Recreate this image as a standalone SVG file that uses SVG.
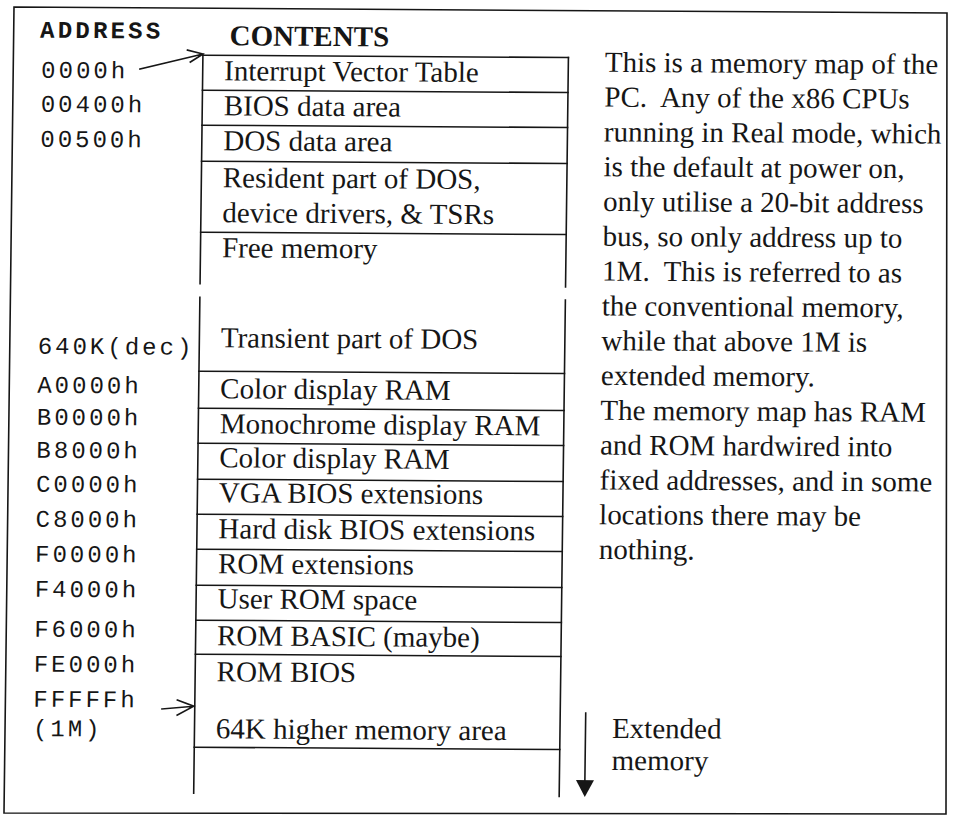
<svg xmlns="http://www.w3.org/2000/svg" width="958" height="819" viewBox="0 0 958 819">
<style>
.ln{stroke:#161616;stroke-width:1.6;fill:none;stroke-linecap:square}
.c{font-family:"Liberation Serif","Times New Roman",serif;font-size:29px;fill:#161616}
.h{font-family:"Liberation Serif","Times New Roman",serif;font-size:29px;font-weight:bold;fill:#161616}
.a{font-family:"Liberation Mono","Courier New",monospace;font-size:24px;letter-spacing:3px;fill:#161616}
.ab{font-family:"Liberation Mono","Courier New",monospace;font-size:24px;letter-spacing:3.2px;font-weight:bold;fill:#161616}
.hd{fill:#161616;stroke:none}
</style>
<rect width="958" height="819" fill="#ffffff"/>
<polygon id="frame" class="ln" points="14,7 947,13 946,814 4,813"/>
<g transform="matrix(1 0.0065 -0.0125 1 5.125 -3.11)">
<g id="headers">
<text class="ab" x="35.5" y="40.6">ADDRESS</text>
<text class="h" x="225" y="47">CONTENTS</text>
</g>
<g id="addresses">
<text class="a" x="37" y="80.6">0000h</text>
<text class="a" x="37" y="114.6">00400h</text>
<text class="a" x="37" y="149.6">00500h</text>
<text class="a" x="37" y="356.6">640K(dec)</text>
<text class="a" x="37" y="395.6">A0000h</text>
<text class="a" x="37" y="427.6">B0000h</text>
<text class="a" x="37" y="460.6">B8000h</text>
<text class="a" x="37" y="494.6">C0000h</text>
<text class="a" x="37" y="529.6">C8000h</text>
<text class="a" x="37" y="564.6">F0000h</text>
<text class="a" x="37" y="599.6">F4000h</text>
<text class="a" x="37" y="639.6">F6000h</text>
<text class="a" x="37" y="674.6">FE000h</text>
<text class="a" x="37" y="709.6">FFFFFh</text>
<text class="a" x="37" y="739">(1M)</text>
</g>
<g id="table-sides">
<path class="ln" d="M198.5 57V285.5M198.5 299V795M564 57V286.5M564 299.5V796"/>
<path class="ln" d="M198.5 57H564"/>
</g>
<g id="row-ivt"><text class="c" x="220" y="82">Interrupt Vector Table</text><path class="ln" d="M198.5 92H564"/></g>
<g id="row-bios-data"><text class="c" x="220" y="117">BIOS data area</text><path class="ln" d="M198.5 127H564"/></g>
<g id="row-dos-data"><text class="c" x="220" y="152">DOS data area</text><path class="ln" d="M198.5 163H564"/></g>
<g id="row-resident"><text class="c" x="220" y="189">Resident part of DOS,</text><text class="c" x="220" y="224">device drivers, &amp; TSRs</text><path class="ln" d="M198.5 234H564"/></g>
<g id="row-free"><text class="c" x="220" y="259">Free memory</text></g>
<g id="row-transient"><text class="c" x="220" y="349">Transient part of DOS</text><path class="ln" d="M198.5 373H564"/></g>
<g id="row-color1"><text class="c" x="220" y="400">Color display RAM</text><path class="ln" d="M198.5 410H564"/></g>
<g id="row-mono"><text class="c" x="220" y="435">Monochrome display RAM</text><path class="ln" d="M198.5 445H564"/></g>
<g id="row-color2"><text class="c" x="220" y="469">Color display RAM</text><path class="ln" d="M198.5 481H564"/></g>
<g id="row-vga"><text class="c" x="220" y="504">VGA BIOS extensions</text><path class="ln" d="M198.5 516H564"/></g>
<g id="row-hdd"><text class="c" x="220" y="540">Hard disk BIOS extensions</text><path class="ln" d="M198.5 551H564"/></g>
<g id="row-romext"><text class="c" x="220" y="575">ROM extensions</text><path class="ln" d="M198.5 587H564"/></g>
<g id="row-userrom"><text class="c" x="220" y="610">User ROM space</text><path class="ln" d="M198.5 622H564"/></g>
<g id="row-basic"><text class="c" x="220" y="647">ROM BASIC (maybe)</text><path class="ln" d="M198.5 656H564"/></g>
<g id="row-rombios"><text class="c" x="220" y="683">ROM BIOS</text></g>
<g id="row-hma"><text class="c" x="220" y="740">64K higher memory area</text><path class="ln" d="M198.5 749H564"/></g>
<g id="description">
<text class="c" x="600.5" y="71">This is a memory map of the</text>
<text class="c" x="600.5" y="105.8" xml:space="preserve">PC.  Any of the x86 CPUs</text>
<text class="c" x="600.5" y="140.6">running in Real mode, which</text>
<text class="c" x="600.5" y="175.4">is the default at power on,</text>
<text class="c" x="600.5" y="210.2">only utilise a 20-bit address</text>
<text class="c" x="600.5" y="245">bus, so only address up to</text>
<text class="c" x="600.5" y="279.8" xml:space="preserve">1M.  This is referred to as</text>
<text class="c" x="600.5" y="314.6">the conventional memory,</text>
<text class="c" x="600.5" y="349.4">while that above 1M is</text>
<text class="c" x="600.5" y="384.2">extended memory.</text>
<text class="c" x="600.5" y="419">The memory map has RAM</text>
<text class="c" x="600.5" y="453.8">and ROM hardwired into</text>
<text class="c" x="600.5" y="488.6">fixed addresses, and in some</text>
<text class="c" x="600.5" y="523.4">locations there may be</text>
<text class="c" x="600.5" y="558.2">nothing.</text>
</g>
<g id="extended-label">
<text class="c" x="616" y="737">Extended</text>
<text class="c" x="616" y="769">memory</text>
</g>
<g id="connectors">
<path class="ln" stroke-linecap="round" d="M135.7 71.2L198.6 55.8M183 52L198.6 55.8L186 64"/>
<path class="ln" stroke-linecap="round" d="M165.7 711L197.5 708M181 702L197.5 708L181 717"/>
<path class="ln" d="M589.5 712.3V781"/>
<polygon class="hd" points="580.6,779.4 598.6,779.4 589.6,796.3"/>
</g>
</g>
</svg>
